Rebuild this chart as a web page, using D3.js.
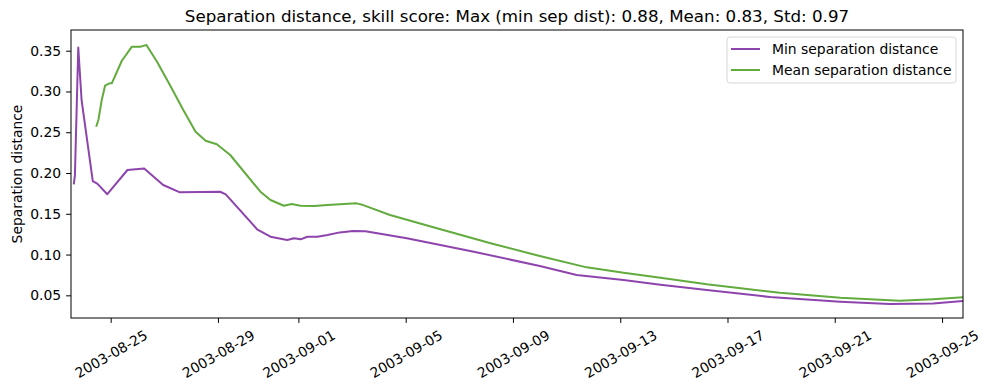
<!DOCTYPE html>
<html>
<head>
<meta charset="utf-8">
<script src="https://cdn.jsdelivr.net/npm/d3@7"></script>
<style>
  body { margin: 0; background: #fff; }
  text { font-family: "DejaVu Sans", sans-serif; fill: #000; }
</style>
</head>
<body>
<div id="my-chart"></div>
<script>

// data
var minDates = ["2003-08-23T15:00", "2003-08-23T16:00", "2003-08-23T19:00", "2003-08-23T22:00",
  "2003-08-24T08:00", "2003-08-24T12:00", "2003-08-24T21:00", "2003-08-25T15:00",
  "2003-08-26T06:00", "2003-08-26T23:00", "2003-08-27T14:00", "2003-08-29T02:00",
  "2003-08-29T07:00", "2003-08-30T11:00", "2003-08-30T23:00", "2003-08-31T14:00",
  "2003-08-31T20:00", "2003-09-01T02:00", "2003-09-01T08:00", "2003-09-01T17:00",
  "2003-09-02T02:00", "2003-09-02T13:00", "2003-09-03T01:00", "2003-09-03T12:00",
  "2003-09-05T01:00", "2003-09-07T13:00", "2003-09-10T00:00", "2003-09-11T09:00",
  "2003-09-13T03:00", "2003-09-14T12:00", "2003-09-16T05:30", "2003-09-18T17:00",
  "2003-09-21T05:00", "2003-09-23T01:00", "2003-09-24T16:00", "2003-09-25T18:45"];
var minValues = [0.186, 0.197, 0.354, 0.289,
  0.190, 0.187, 0.174, 0.2037,
  0.2055, 0.1853, 0.1763, 0.1770,
  0.1739, 0.131, 0.1219, 0.1178,
  0.1199, 0.1187, 0.1219, 0.1219,
  0.1240, 0.1272, 0.1289, 0.1285,
  0.1199, 0.1035, 0.0859, 0.0749,
  0.0687, 0.0630, 0.0565, 0.0475,
  0.0422, 0.0394, 0.0401, 0.0430];

var meanDates = ["2003-08-24T11:00", "2003-08-24T13:00", "2003-08-24T16:00", "2003-08-24T19:00",
  "2003-08-24T23:00", "2003-08-25T01:00", "2003-08-25T10:00", "2003-08-25T19:00",
  "2003-08-26T03:00", "2003-08-26T08:00", "2003-08-26T17:30", "2003-08-27T05:00",
  "2003-08-27T17:00", "2003-08-28T04:00", "2003-08-28T13:00", "2003-08-28T23:00",
  "2003-08-29T11:00", "2003-08-30T14:00", "2003-08-30T23:00", "2003-08-31T11:00",
  "2003-08-31T18:00", "2003-09-01T02:00", "2003-09-01T14:00", "2003-09-02T02:00",
  "2003-09-03T04:00", "2003-09-03T10:00", "2003-09-04T10:00", "2003-09-06T04:00",
  "2003-09-08T04:00", "2003-09-10T00:00", "2003-09-11T18:00", "2003-09-13T03:00",
  "2003-09-14T12:00", "2003-09-16T05:30", "2003-09-18T23:00", "2003-09-21T05:00",
  "2003-09-23T10:00", "2003-09-24T16:00", "2003-09-25T18:45"];
var meanValues = [0.2568, 0.265, 0.2895, 0.3071,
  0.310, 0.310, 0.3377, 0.355,
  0.355, 0.357, 0.3365, 0.3079,
  0.2773, 0.2507, 0.2396, 0.2352,
  0.2221, 0.1771, 0.1669, 0.1599,
  0.1620, 0.1599, 0.1595, 0.1607,
  0.1628, 0.1607, 0.1485, 0.1322,
  0.1138, 0.0982, 0.0843, 0.0777,
  0.0716, 0.0635, 0.0532, 0.0471,
  0.0433, 0.0451, 0.0475];

var xTicks = ["2003-08-25", "2003-08-29", "2003-09-01", "2003-09-05", "2003-09-09",
  "2003-09-13", "2003-09-17", "2003-09-21", "2003-09-25"];
var yTicks = [0.05, 0.10, 0.15, 0.20, 0.25, 0.30, 0.35];
var xRange = ["2003-08-23T12:30", "2003-09-25T18:45"];
var yRange = [0.0222, 0.3754];

var seriesNames = ["Min separation distance", "Mean separation distance"];
var seriesColors = ["#8e44ad", "#62ab3e"];
var title = "Separation distance, skill score: Max (min sep dist): 0.88, Mean: 0.83, Std: 0.97";

// setting up the dimensions and margins
var margin = {top: 30, right: 26, bottom: 72, left: 71},
  width = 989 - margin.left - margin.right,
  height = 390 - margin.top - margin.bottom;

var parseTime = d3.timeParse("%Y-%m-%dT%H:%M");
var parseDay = d3.timeParse("%Y-%m-%d");

var svg = d3.select("#my-chart")
  .append("svg")
  .attr("width", width + margin.left + margin.right)
  .attr("height", height + margin.top + margin.bottom)
  .append("g")
  .attr("transform", "translate(" + margin.left + "," + margin.top + ")");

var x = d3.scaleTime()
  .domain(xRange.map(parseTime))
  .range([0, width]);

var y = d3.scaleLinear()
  .domain(yRange)
  .range([height, 0]);

// clip so lines stay inside the frame
svg.append("clipPath").attr("id", "clip")
  .append("rect").attr("width", width).attr("height", height);

// x axis with rotated labels
var xAxis = svg.append("g")
  .attr("transform", "translate(0," + height + ")")
  .call(d3.axisBottom(x)
    .tickValues(xTicks.map(parseDay))
    .tickSize(4.9)
    .tickFormat(d3.timeFormat("%Y-%m-%d")));
xAxis.select(".domain").remove();
xAxis.selectAll(".tick line").attr("stroke", "#000").attr("stroke-width", 1);
xAxis.selectAll(".tick text")
  .attr("font-size", "13.9px")
  .attr("y", 0)
  .attr("dy", null)
  .attr("text-anchor", "middle")
  .attr("dominant-baseline", "central")
  .attr("transform", "translate(0,36) rotate(-30)");

// y axis
var yAxis = svg.append("g")
  .call(d3.axisLeft(y)
    .tickValues(yTicks)
    .tickSize(4.9)
    .tickPadding(4.9)
    .tickFormat(d3.format(".2f")));
yAxis.select(".domain").remove();
yAxis.selectAll(".tick line").attr("stroke", "#000").attr("stroke-width", 1);
yAxis.selectAll(".tick text").attr("font-size", "13.9px");

// the lines
var line = d3.line()
  .x(function(d) { return x(d.date); })
  .y(function(d) { return y(d.value); });

var series = [
  minDates.map(function(d, i) { return {date: parseTime(d), value: minValues[i]}; }),
  meanDates.map(function(d, i) { return {date: parseTime(d), value: meanValues[i]}; })
];

series.forEach(function(data, i) {
  svg.append("path")
    .datum(data)
    .attr("clip-path", "url(#clip)")
    .attr("fill", "none")
    .attr("stroke", seriesColors[i])
    .attr("stroke-width", 2)
    .attr("stroke-linejoin", "round")
    .attr("d", line);
});

// frame
svg.append("rect")
  .attr("width", width)
  .attr("height", height)
  .attr("fill", "none")
  .attr("stroke", "#000")
  .attr("stroke-width", 1);

// title and y label
svg.append("text")
  .attr("x", width / 2)
  .attr("y", -8)
  .attr("text-anchor", "middle")
  .attr("font-size", "16.7px")
  .text(title);

svg.append("text")
  .attr("transform", "translate(" + (-49) + "," + (height / 2) + ") rotate(-90)")
  .attr("text-anchor", "middle")
  .attr("font-size", "13.9px")
  .text("Separation distance");

// legend
var legend = svg.append("g")
  .attr("transform", "translate(" + (width - 236) + ",7)");
legend.append("rect")
  .attr("width", 229)
  .attr("height", 46)
  .attr("rx", 3)
  .attr("fill", "#fff")
  .attr("fill-opacity", 0.8)
  .attr("stroke", "#d6d6d6");
seriesNames.forEach(function(name, i) {
  legend.append("line")
    .attr("x1", 4).attr("x2", 33)
    .attr("y1", 12 + i * 21).attr("y2", 12 + i * 21)
    .attr("stroke", seriesColors[i])
    .attr("stroke-width", 2);
  legend.append("text")
    .attr("x", 45)
    .attr("y", 12 + i * 21)
    .attr("dominant-baseline", "central")
    .attr("font-size", "13.9px")
    .text(name);
});

</script>
</body>
</html>
